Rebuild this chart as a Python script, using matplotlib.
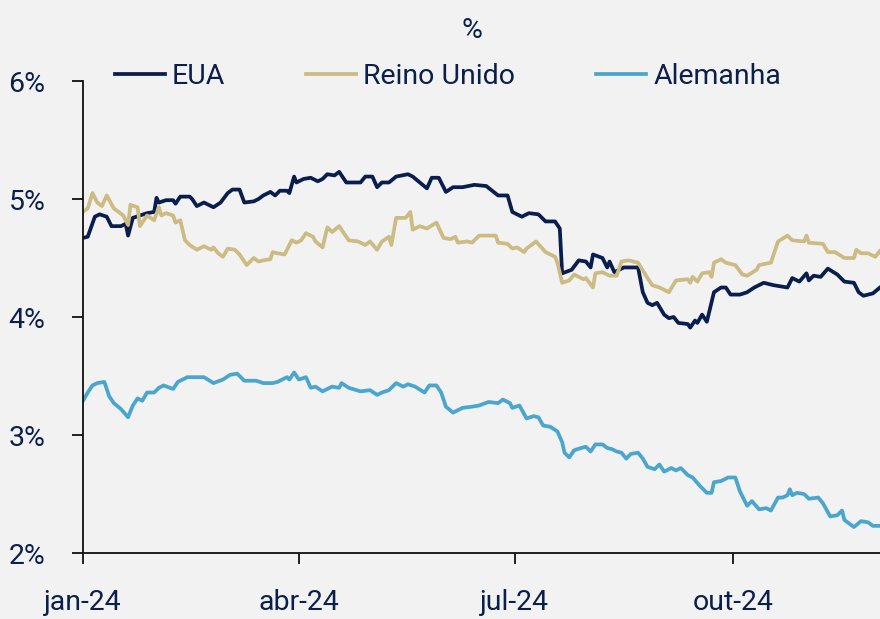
import numpy as np
import pandas as pd
import matplotlib
matplotlib.use("Agg")
import matplotlib.pyplot as plt

# dias desde 1-jan-2024 e yields (%)
dias_eua = [0, 2, 5, 7, 10, 12, 16, 18, 19, 21, 24, 27, 30, 31, 32, 35, 38, 39, 41, 45, 46, 48, 51, 53, 55,
            58, 61, 63, 66, 68, 72, 74, 76, 79, 81, 83, 86, 87, 89, 90, 93, 96, 99, 101, 103, 106, 108, 111,
            114, 117, 119, 122, 124, 126, 129, 132, 137, 139, 142, 145, 147, 150, 153, 156, 160, 165, 170,
            175, 179, 181, 185, 188, 192, 195, 199, 201, 202, 206, 209, 212, 214, 215, 219, 221, 222, 224,
            228, 234, 236, 238, 240, 242, 245, 247, 249, 251, 255, 256, 258, 259, 261, 263, 266, 269, 271,
            273, 277, 280, 283, 287, 291, 297, 299, 302, 305, 306, 308, 311, 314, 318, 321, 325, 327, 329,
            333, 336]
eua = [4.67, 4.68, 4.85, 4.87, 4.85, 4.77, 4.77, 4.79, 4.69, 4.84, 4.86, 4.88, 4.89, 5.01, 4.97, 4.99, 4.99,
       4.96, 5.02, 5.02, 5.00, 4.94, 4.97, 4.95, 4.93, 4.97, 5.05, 5.08, 5.08, 4.97, 4.98, 5.00, 5.03, 5.06,
       5.03, 5.07, 5.07, 5.05, 5.19, 5.14, 5.17, 5.18, 5.15, 5.17, 5.21, 5.20, 5.23, 5.14, 5.14, 5.14, 5.19,
       5.19, 5.10, 5.14, 5.14, 5.19, 5.21, 5.19, 5.14, 5.09, 5.18, 5.18, 5.06, 5.10, 5.10, 5.12, 5.11, 5.03,
       5.03, 4.89, 4.85, 4.88, 4.87, 4.81, 4.81, 4.75, 4.37, 4.40, 4.48, 4.47, 4.42, 4.53, 4.50, 4.42, 4.47,
       4.38, 4.42, 4.42, 4.21, 4.12, 4.10, 4.12, 4.02, 3.99, 4.00, 3.95, 3.94, 3.91, 3.97, 3.95, 4.02, 3.96,
       4.21, 4.25, 4.25, 4.19, 4.19, 4.21, 4.25, 4.29, 4.27, 4.25, 4.33, 4.30, 4.37, 4.31, 4.35, 4.34, 4.41,
       4.36, 4.30, 4.29, 4.21, 4.18, 4.20, 4.25]

dias_uk = [0, 2, 4, 6, 8, 10, 13, 17, 19, 20, 23, 24, 27, 30, 32, 33, 35, 38, 39, 41, 43, 45, 48, 51, 54,
           55, 57, 59, 61, 64, 66, 69, 72, 74, 76, 79, 80, 82, 85, 88, 90, 92, 94, 97, 98, 101, 103, 105,
           108, 112, 116, 119, 121, 124, 126, 129, 130, 132, 136, 138, 139, 142, 145, 149, 152, 155, 157,
           158, 162, 164, 167, 171, 174, 175, 179, 181, 183, 186, 187, 191, 195, 199, 200, 202, 205, 207,
           211, 212, 215, 216, 219, 222, 225, 227, 230, 234, 238, 240, 243, 247, 250, 255, 256, 257, 259,
           261, 264, 265, 266, 269, 271, 275, 278, 280, 284, 285, 290, 293, 297, 299, 304, 305, 306, 312,
           314, 317, 321, 325, 326, 328, 331, 334, 336]
uk = [4.89, 4.92, 5.05, 4.97, 4.94, 5.03, 4.92, 4.86, 4.78, 4.95, 4.93, 4.77, 4.86, 4.82, 4.93, 4.86, 4.88,
      4.86, 4.80, 4.82, 4.65, 4.61, 4.57, 4.60, 4.57, 4.59, 4.54, 4.51, 4.58, 4.57, 4.53, 4.44, 4.50, 4.47,
      4.48, 4.49, 4.55, 4.54, 4.53, 4.65, 4.63, 4.65, 4.71, 4.68, 4.64, 4.59, 4.76, 4.72, 4.77, 4.65, 4.64,
      4.61, 4.64, 4.57, 4.64, 4.68, 4.61, 4.84, 4.84, 4.89, 4.74, 4.77, 4.75, 4.80, 4.67, 4.66, 4.68, 4.63,
      4.64, 4.63, 4.69, 4.69, 4.69, 4.63, 4.62, 4.58, 4.59, 4.55, 4.58, 4.64, 4.55, 4.51, 4.46, 4.29, 4.31,
      4.36, 4.32, 4.33, 4.25, 4.37, 4.38, 4.35, 4.35, 4.47, 4.48, 4.46, 4.33, 4.27, 4.25, 4.21, 4.31, 4.32,
      4.29, 4.34, 4.30, 4.37, 4.38, 4.34, 4.46, 4.49, 4.46, 4.44, 4.36, 4.35, 4.40, 4.44, 4.46, 4.64, 4.69,
      4.65, 4.64, 4.69, 4.63, 4.62, 4.55, 4.55, 4.50, 4.50, 4.57, 4.54, 4.54, 4.51, 4.56]

dias_de = [0, 2, 4, 6, 9, 11, 13, 16, 19, 21, 23, 25, 27, 30, 32, 34, 38, 40, 44, 48, 51, 55, 59, 62, 65,
           68, 73, 76, 80, 82, 86, 87, 89, 91, 94, 96, 98, 101, 105, 108, 109, 112, 117, 121, 124, 126, 129,
           132, 135, 137, 140, 144, 146, 149, 151, 153, 156, 160, 164, 167, 171, 175, 177, 180, 181, 184,
           187, 190, 192, 194, 197, 200, 202, 203, 205, 207, 210, 212, 214, 216, 219, 221, 223, 225, 227,
           229, 231, 234, 236, 238, 241, 243, 245, 248, 250, 252, 255, 257, 260, 263, 265, 266, 269, 272,
           275, 277, 280, 282, 285, 288, 290, 293, 295, 297, 298, 299, 301, 304, 306, 310, 312, 315, 318,
           320, 321, 325, 328, 331, 333, 336]
de = [3.29, 3.36, 3.42, 3.44, 3.45, 3.33, 3.27, 3.22, 3.15, 3.25, 3.31, 3.29, 3.36, 3.36, 3.40, 3.42, 3.39,
      3.45, 3.49, 3.49, 3.49, 3.44, 3.47, 3.51, 3.52, 3.46, 3.46, 3.44, 3.44, 3.45, 3.49, 3.47, 3.53, 3.47,
      3.49, 3.40, 3.41, 3.37, 3.41, 3.40, 3.44, 3.40, 3.37, 3.38, 3.34, 3.36, 3.38, 3.44, 3.41, 3.43, 3.41,
      3.36, 3.42, 3.42, 3.36, 3.24, 3.19, 3.23, 3.24, 3.25, 3.28, 3.27, 3.30, 3.27, 3.23, 3.25, 3.14, 3.16,
      3.15, 3.08, 3.07, 3.03, 2.94, 2.85, 2.81, 2.87, 2.89, 2.90, 2.86, 2.92, 2.92, 2.89, 2.88, 2.86, 2.85,
      2.80, 2.84, 2.85, 2.80, 2.73, 2.71, 2.75, 2.69, 2.72, 2.70, 2.72, 2.66, 2.64, 2.57, 2.51, 2.51, 2.60,
      2.61, 2.64, 2.64, 2.52, 2.40, 2.44, 2.37, 2.38, 2.36, 2.47, 2.47, 2.49, 2.54, 2.49, 2.51, 2.50, 2.46,
      2.47, 2.42, 2.31, 2.32, 2.36, 2.28, 2.22, 2.27, 2.26, 2.23, 2.23]

tick_datas = ["2024-01-01", "2024-04-01", "2024-07-01", "2024-10-01"]
tick_labels = ["jan-24", "abr-24", "jul-24", "out-24"]
y_ticks = [2, 3, 4, 5, 6]

navy = "#0b1f4b"
bg = "#f2f2f2"
base = pd.Timestamp("2024-01-01")

def to_dates(d):
    return base + pd.to_timedelta(d, unit="D")

plt.rcParams['font.family'] = ['Roboto', 'DejaVu Sans']
fs = 20.5

fig = plt.figure(figsize=(8.8, 6.19), dpi=100, facecolor=bg)
ax = fig.add_axes([83/880, 1-553/619, 1-83/880, (553-81)/619])
ax.set_facecolor(bg)

ax.plot(to_dates(dias_eua), eua, color="#0a1e4e", lw=2.7, label="EUA")
ax.plot(to_dates(dias_uk), uk, color="#cdbb84", lw=2.7, label="Reino Unido")
ax.plot(to_dates(dias_de), de, color="#4aa6cc", lw=2.7, label="Alemanha")

ax.set_ylim(2, 6)
ax.set_xlim(base, base + pd.Timedelta(days=336))
ax.set_yticks(y_ticks)
ax.set_yticklabels([f"{v}%" for v in y_ticks])
ax.set_xticks(pd.to_datetime(tick_datas))
ax.set_xticklabels(tick_labels)

for s in ["top", "right"]:
    ax.spines[s].set_visible(False)
for s in ["left", "bottom"]:
    ax.spines[s].set_linewidth(1.3)
    ax.spines[s].set_color("#111111")
ax.tick_params(axis="both", length=8, width=1.3, color="#111111", labelcolor=navy, labelsize=fs)
ax.tick_params(axis="y", pad=19)
ax.tick_params(axis="x", pad=18)

leg = ax.legend(loc="center", bbox_to_anchor=(448/880, 1-76/619), bbox_transform=fig.transFigure,
                ncol=3, frameon=False, fontsize=fs, handlelength=1.75, handletextpad=0.25,
                columnspacing=2.85)
for t in leg.get_texts():
    t.set_color(navy)

fig.text(472/880, 1-30/619, "%", ha="center", va="center", color=navy, fontsize=fs)

fig.savefig("out.png", dpi=100, facecolor=bg)
